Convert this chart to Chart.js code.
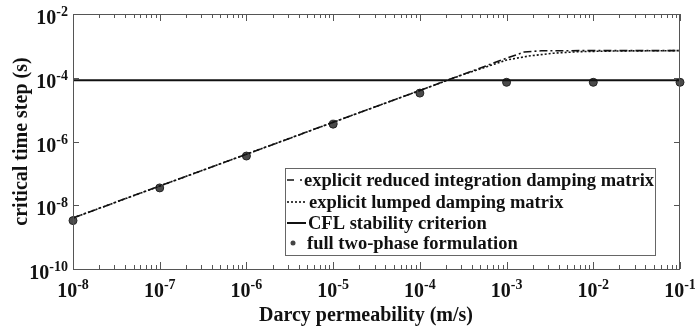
<!DOCTYPE html>
<html>
<head>
<meta charset="utf-8">
<script src="https://cdn.jsdelivr.net/npm/chart.js@4.4.0/dist/chart.umd.min.js"></script>
<style>
  html, body { margin: 0; padding: 0; background: #fff; }
  #wrap { width: 695px; height: 329px; }
</style>
</head>
<body>
<div id="wrap"><canvas id="dtChart"></canvas></div>
<script>
// permeabilities where the full two-phase model was run (m/s)
const permeability = [1e-8, 1e-7, 1e-6, 1e-5, 1e-4, 1e-3, 1e-2, 1e-1];
const fullTwoPhase = [3.3e-9, 3.5e-8, 3.5e-7, 3.5e-6, 3.3e-5, 7.2e-5, 7.2e-5, 7.2e-5];

const reducedK  = [1e-8, 1e-4, 1e-3, 1.6e-3, 2.5e-3, 1e-2, 1e-1];
const reducedDt = [4.0e-9, 4.0e-5, 4.1e-4, 6.4e-4, 7.0e-4, 7.1e-4, 7.1e-4];

const lumpedK  = [1e-8, 1e-4, 3e-4, 6e-4, 1e-3, 1.8e-3, 3.5e-3, 7e-3, 1.7e-2, 1e-1];
const lumpedDt = [4.0e-9, 4.0e-5, 1.2e-4, 2.25e-4, 3.6e-4, 4.8e-4, 5.9e-4, 6.6e-4, 6.9e-4, 7.1e-4];

const cflK  = [1e-8, 1e-1];
const cflDt = [8.4e-5, 8.4e-5];

const xExponents = [-8, -7, -6, -5, -4, -3, -2, -1];
const yExponents = [-10, -8, -6, -4, -2];

const legendLabels = [
    'explicit reduced integration damping matrix',
    'explicit lumped damping matrix',
    'CFL stability criterion',
    'full two-phase formulation'
];

const serif = '"Liberation Serif", "Times New Roman", serif';
const pts = (xs, ys) => xs.map((x, i) => ({ x: x, y: ys[i] }));

// "10" with a raised exponent, centred or right-aligned on x
function drawPower(ctx, exp, x, y, align) {
    const sup = String(exp);
    ctx.font = 'bold 20px ' + serif;
    const wBase = ctx.measureText('10').width;
    ctx.font = 'bold 14px ' + serif;
    const wSup = ctx.measureText(sup).width;
    let left = align === 'right' ? x - wBase - wSup : x - (wBase + wSup) / 2;
    ctx.textAlign = 'left';
    ctx.textBaseline = 'alphabetic';
    ctx.font = 'bold 20px ' + serif;
    ctx.fillText('10', left, y);
    ctx.font = 'bold 14px ' + serif;
    ctx.fillText(sup, left + wBase, y - 8);
}

const frame = {
    id: 'frame',
    afterDraw(chart) {
        const ctx = chart.ctx;
        const a = chart.chartArea;
        const xs = chart.scales.x, ys = chart.scales.y;
        ctx.save();

        // box
        ctx.strokeStyle = '#555';
        ctx.lineWidth = 1;
        ctx.strokeRect(a.left + 0.5, a.top + 0.5, a.right - a.left - 1, a.bottom - a.top);

        // inward ticks on x (top and bottom)
        ctx.beginPath();
        xExponents.forEach((e, i) => {
            const px = Math.round(xs.getPixelForValue(Math.pow(10, e))) + 0.5;
            ctx.moveTo(px, a.bottom); ctx.lineTo(px, a.bottom - 7);
            ctx.moveTo(px, a.top); ctx.lineTo(px, a.top + 7);
            if (i < xExponents.length - 1) {
                for (let m = 2; m <= 9; m++) {
                    const mx = Math.round(xs.getPixelForValue(m * Math.pow(10, e))) + 0.5;
                    ctx.moveTo(mx, a.bottom); ctx.lineTo(mx, a.bottom - 4);
                    ctx.moveTo(mx, a.top); ctx.lineTo(mx, a.top + 4);
                }
            }
        });
        // inward ticks on y (left and right)
        yExponents.forEach(e => {
            const py = Math.round(ys.getPixelForValue(Math.pow(10, e))) + 0.5;
            ctx.moveTo(a.left, py); ctx.lineTo(a.left + 6, py);
            ctx.moveTo(a.right, py); ctx.lineTo(a.right - 6, py);
        });
        ctx.stroke();

        // tick labels
        ctx.fillStyle = '#111';
        xExponents.forEach(e => {
            drawPower(ctx, e, xs.getPixelForValue(Math.pow(10, e)), a.bottom + 28, 'center');
        });
        yExponents.forEach(e => {
            drawPower(ctx, e, a.left - 5, ys.getPixelForValue(Math.pow(10, e)) + 10, 'right');
        });

        // axis titles
        ctx.font = 'bold 20px ' + serif;
        ctx.textAlign = 'center';
        ctx.textBaseline = 'middle';
        ctx.fillText('Darcy permeability (m/s)', 366, 316);
        ctx.save();
        ctx.translate(22, (a.top + a.bottom) / 2);
        ctx.rotate(-Math.PI / 2);
        ctx.fillText('critical time step (s)', 0, 0);
        ctx.restore();

        // legend
        const lx = 285, ly = 168, lw = 370, lh = 87;
        ctx.fillStyle = '#fff';
        ctx.fillRect(lx, ly, lw, lh);
        ctx.strokeStyle = '#666';
        ctx.strokeRect(lx + 0.5, ly + 0.5, lw, lh);
        const rows = [180, 202, 223, 243];
        const textX = [304, 309, 308, 307];
        chart.data.datasets.forEach((ds, i) => {
            const y = rows[i];
            ctx.strokeStyle = '#111';
            ctx.fillStyle = '#111';
            if (i === 3) {
                ctx.beginPath();
                ctx.fillStyle = '#444';
                ctx.arc(293, y, 2.5, 0, Math.PI * 2);
                ctx.fill();
            } else {
                ctx.lineWidth = ds.borderWidth;
                ctx.setLineDash(i === 0 ? [7, 6, 3, 6] : (ds.borderDash || []));
                ctx.beginPath();
                ctx.moveTo(287, y);
                ctx.lineTo(textX[i] - 2, y);
                ctx.stroke();
                ctx.setLineDash([]);
            }
            ctx.fillStyle = '#111';
            ctx.font = 'bold 18.5px ' + serif;
            ctx.textAlign = 'left';
            ctx.textBaseline = 'middle';
            ctx.fillText(legendLabels[i], textX[i], y + 1);
        });

        ctx.restore();
    }
};

const ctx = document.getElementById('dtChart').getContext('2d');
const dtChart = new Chart(ctx, {
    type: 'line',
    data: {
        datasets: [{
            label: legendLabels[0],
            data: pts(reducedK, reducedDt),
            borderColor: '#111',
            borderWidth: 1.6,
            borderDash: [8, 3, 2, 3],
            pointRadius: 0,
            tension: 0
        },
        {
            label: legendLabels[1],
            data: pts(lumpedK, lumpedDt),
            borderColor: '#111',
            borderWidth: 1.6,
            borderDash: [2, 2],
            pointRadius: 0,
            tension: 0
        },
        {
            label: legendLabels[2],
            data: pts(cflK, cflDt),
            borderColor: '#111',
            borderWidth: 2,
            pointRadius: 0
        },
        {
            label: legendLabels[3],
            data: pts(permeability, fullTwoPhase),
            showLine: false,
            pointRadius: 4,
            pointBackgroundColor: '#4a4a4a',
            pointBorderColor: '#222',
            pointBorderWidth: 1,
            clip: false
        }]
    },
    options: {
        responsive: true,
        maintainAspectRatio: false,
        animation: false,
        events: [],
        layout: { padding: { top: 14, right: 15, left: 0, bottom: 0 } },
        plugins: { legend: { display: false }, tooltip: { enabled: false } },
        scales: {
            x: {
                type: 'logarithmic',
                min: 1e-8,
                max: 1e-1,
                ticks: { display: false },
                grid: { display: false },
                border: { display: false },
                afterFit: s => { s.height = 60; }
            },
            y: {
                type: 'logarithmic',
                min: 1e-10,
                max: 1e-2,
                ticks: { display: false },
                grid: { display: false },
                border: { display: false },
                afterFit: s => { s.width = 73; }
            }
        }
    },
    plugins: [frame]
});
</script>
</body>
</html>
